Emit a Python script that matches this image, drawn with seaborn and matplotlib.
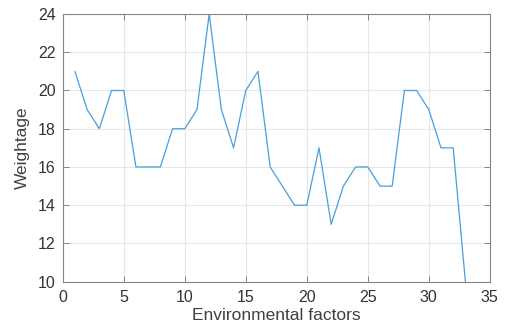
import numpy as np
import pandas as pd
import matplotlib
matplotlib.use("Agg")
import matplotlib.pyplot as plt
import seaborn as sns

# data
factors = list(range(1, 34))
weightage = [21, 19, 18, 20, 20, 16, 16, 16, 18, 18, 19, 24, 19, 17, 20, 21,
             16, 15, 14, 14, 17, 13, 15, 16, 16, 15, 15, 20, 20, 19, 17, 17, 10]

df = pd.DataFrame({"factor": factors, "weightage": weightage})

sns.set_style("whitegrid")
plt.rcParams['font.family'] = ['Liberation Sans', 'DejaVu Sans']

fig = plt.figure(figsize=(5.06, 3.33), dpi=100)
ax = fig.add_axes([0.124, 0.154, 0.844, 0.804])

sns.lineplot(data=df, x="factor", y="weightage", ax=ax, color="#4a9fd9", linewidth=0.9)

ax.set_xlim(0, 35)
ax.set_ylim(10, 24)
ax.set_xticks(np.arange(0, 36, 5))
ax.set_yticks(np.arange(10, 25, 2))
ax.grid(True, color="#e6e6e6", linewidth=0.8)
for s in ax.spines.values():
    s.set_color("#858585")
    s.set_linewidth(0.8)
ax.tick_params(direction="in", length=4, width=0.7, color="#858585",
               labelsize=11.5, labelcolor="#333333", top=True, right=True,
               left=True, bottom=True)
ax.tick_params(axis="x", pad=6)
ax.tick_params(axis="y", pad=5)
ax.set_xlabel("Environmental factors", fontsize=12.5, color="#404040", labelpad=2)
ax.set_ylabel("Weightage", fontsize=12.5, color="#404040", labelpad=6)

fig.savefig("out.png", dpi=100)
